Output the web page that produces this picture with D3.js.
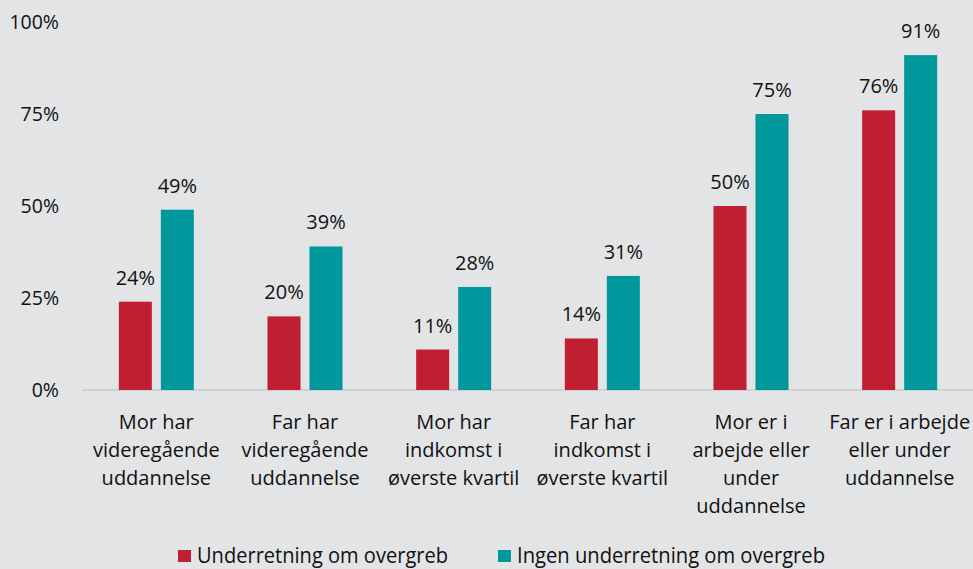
<!DOCTYPE html>
<html>
<head>
<meta charset="utf-8">
<script src="https://cdn.jsdelivr.net/npm/d3@7"></script>
<style>
  body { margin: 0; background: #e3e4e6; }
  svg text { font-family: "Open Sans", "Noto Sans", sans-serif; fill: #111; }
</style>
</head>
<body>
<div id="chart"></div>
<script>
var categories = [
    ["Mor har", "videregående", "uddannelse"],
    ["Far har", "videregående", "uddannelse"],
    ["Mor har", "indkomst i", "øverste kvartil"],
    ["Far har", "indkomst i", "øverste kvartil"],
    ["Mor er i", "arbejde eller", "under", "uddannelse"],
    ["Far er i arbejde", "eller under", "uddannelse"]
];
var seriesNames = ["Underretning om overgreb", "Ingen underretning om overgreb"];
var underretning = [24, 20, 11, 14, 50, 76];
var ingen = [49, 39, 28, 31, 75, 91];
var yTicks = [0, 25, 50, 75, 100];

var colors = ["#c01f32", "#00979d"];

var dim = { width: 973, height: 569 };

var svg = d3.select("#chart").append("svg")
    .attr("width", dim.width)
    .attr("height", dim.height);

svg.append("rect").attr("width", "100%").attr("height", "100%").attr("fill", "#e3e4e6");

var x0 = d3.scaleBand()
    .domain(d3.range(categories.length))
    .range([82, 974]);

var y = d3.scaleLinear().domain([0, 100]).range([390, 22]);

// y tick labels, no axis line
svg.append("g").selectAll("text")
    .data(yTicks).enter()
    .append("text")
    .attr("x", 59)
    .attr("y", d => y(d))
    .attr("dy", "0.35em")
    .attr("text-anchor", "end")
    .style("font-size", "19.5px")
    .text(d => d + "%");

// baseline
svg.append("line")
    .attr("x1", 82).attr("x2", 973)
    .attr("y1", y(0)).attr("y2", y(0))
    .attr("stroke", "#cfd0d2")
    .attr("stroke-width", 2);

var barW = 33, gap = 9;
var data = [underretning, ingen];

data.forEach(function(vals, s) {
    var g = svg.append("g");
    var xPos = i => x0(i) + x0.bandwidth() / 2 + (s === 0 ? -gap / 2 - barW : gap / 2);
    g.selectAll("rect")
        .data(vals).enter()
        .append("rect")
        .attr("x", (d, i) => xPos(i))
        .attr("y", d => y(d))
        .attr("width", barW)
        .attr("height", d => y(0) - y(d))
        .attr("fill", colors[s]);
    g.selectAll("text")
        .data(vals).enter()
        .append("text")
        .attr("x", (d, i) => xPos(i) + barW / 2)
        .attr("y", d => y(d) - 17)
        .attr("text-anchor", "middle")
        .style("font-size", "20px")
        .text(d => d + "%");
});

// category labels
var catG = svg.append("g");
categories.forEach(function(lines, i) {
    var cx = x0(i) + x0.bandwidth() / 2;
    var t = catG.append("text")
        .attr("text-anchor", "middle")
        .style("font-size", "20px");
    lines.forEach(function(l, j) {
        t.append("tspan")
            .attr("x", cx)
            .attr("y", 429 + j * 28)
            .text(l);
    });
});

// legend at the bottom edge
var legendX = [178, 498];
var legendLen = [251, 308];
var legend = svg.append("g");
seriesNames.forEach(function(name, i) {
    legend.append("rect")
        .attr("x", legendX[i])
        .attr("y", 550)
        .attr("width", 13)
        .attr("height", 12)
        .attr("fill", colors[i]);
    legend.append("text")
        .attr("x", legendX[i] + 19)
        .attr("y", 563)
        .attr("textLength", legendLen[i])
        .attr("lengthAdjust", "spacingAndGlyphs")
        .style("font-size", "22px")
        .text(name);
});
</script>
</body>
</html>
